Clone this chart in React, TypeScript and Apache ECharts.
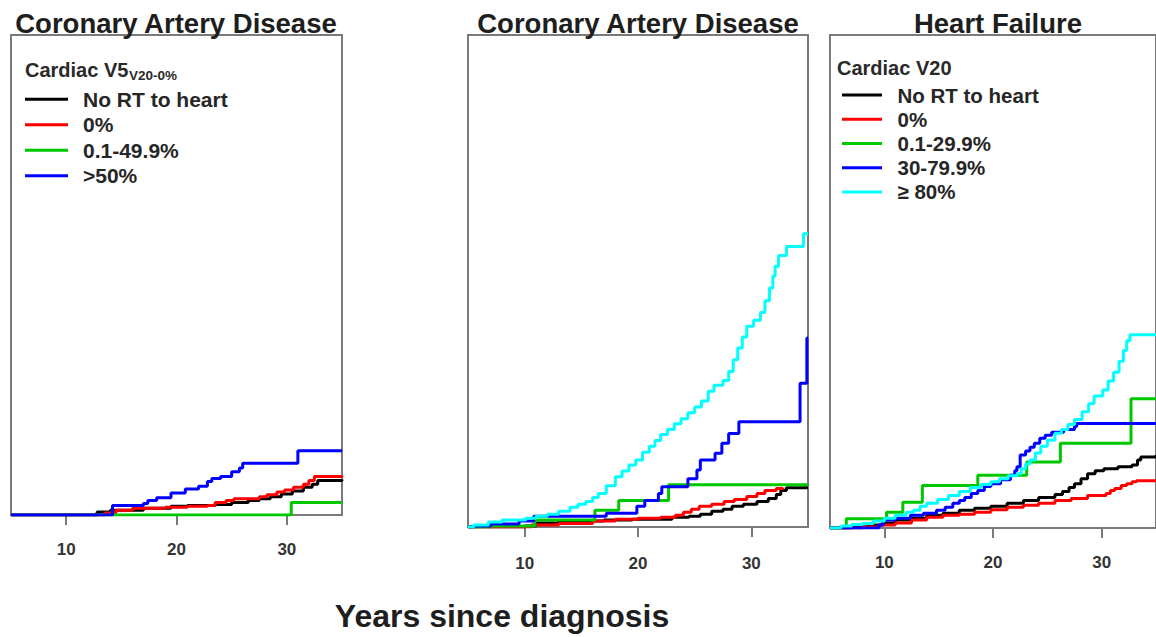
import React, { useEffect, useRef } from "react";
import * as echarts from "echarts";

// ---------- shared ----------
const xTicks = [10, 20, 30];
const xMin = 5;
const xMax = 35;

// ---------- panel 1: Coronary Artery Disease, Cardiac V5 (V20-0%) ----------
const p1Title = "Coronary Artery Disease";
const p1Header = "Cardiac V5";
const p1HeaderSub = "V20-0%";
const p1Names = ["No RT to heart", "0%", "0.1-49.9%", ">50%"];
const p1Black = [[5, 0], [12.8, 0.3], [14, 0.5], [17, 0.7], [19.5, 0.9], [21, 1.0], [23.5, 1.1], [25, 1.3], [26.5, 1.5], [27.5, 1.7], [28.5, 1.9], [29.5, 2.2], [30.5, 2.5], [31.5, 2.9], [32.3, 3.2], [32.8, 3.6], [35, 3.7]];
const p1Red = [[5, 0], [13.5, 0.2], [14.5, 0.5], [16, 0.7], [19, 0.8], [21, 0.9], [22.8, 1.0], [23.5, 1.3], [24.5, 1.5], [25.2, 1.7], [27.5, 1.9], [28.2, 2.1], [29.1, 2.4], [29.8, 2.6], [30.6, 2.9], [31.5, 3.2], [32, 3.6], [32.5, 4.0], [35, 4.1]];
const p1Green = [[5, 0], [30.4, 1.3], [35, 1.3]];
const p1Blue = [[5, 0], [14.2, 1.0], [17.0, 1.2], [17.4, 1.5], [18.2, 1.8], [19.5, 2.3], [20.8, 2.7], [22.0, 3.0], [22.8, 3.5], [23.2, 3.8], [24.0, 4.0], [25.0, 4.5], [25.7, 4.9], [26.0, 5.4], [31.0, 6.7], [35, 6.7]];

// ---------- panel 2: Coronary Artery Disease (V20 groups) ----------
const p2Title = "Coronary Artery Disease";
const p2Black = [[5, 0], [10, 0.1], [11, 0.4], [13, 0.6], [17, 0.7], [19.5, 0.8], [23, 1.0], [24.5, 1.1], [25.5, 1.3], [26.5, 1.6], [27.5, 1.8], [28.3, 2.1], [29.3, 2.3], [30.5, 2.6], [31.5, 2.9], [32.2, 3.3], [32.6, 3.7], [33.1, 4.0], [35, 4.0]];
const p2Red = [[5, 0], [10.6, 0.2], [13, 0.35], [16, 0.6], [18, 0.8], [20, 0.9], [22, 1.0], [23.3, 1.2], [24, 1.5], [24.7, 1.8], [25.4, 2.1], [26.5, 2.3], [27.6, 2.6], [28.5, 2.8], [29.6, 3.1], [30.5, 3.4], [31.2, 3.7], [32.2, 3.9], [32.8, 4.0]];
const p2Green = [[5, 0], [7, 0.1], [10.9, 0.7], [16.2, 1.7], [18.3, 2.7], [22.7, 4.3], [35, 4.3]];
const p2Blue = [[5, 0], [5.5, 0.1], [7, 0.3], [9.5, 0.6], [10.8, 1.1], [17.2, 1.4], [19.9, 2.1], [20.6, 2.7], [21.8, 3.4], [22.1, 4.1], [24.4, 4.9], [25.2, 5.8], [25.5, 6.8], [26.8, 7.5], [27.4, 8.5], [28.0, 9.5], [28.9, 10.7], [34.3, 14.6], [34.9, 19.2], [35, 19.2]];
const p2Cyan = [[5, 0], [5.5, 0.2], [6.8, 0.5], [8, 0.7], [10.1, 0.9], [11, 1.1], [12, 1.3], [13, 1.6], [14, 2.0], [14.7, 2.3], [15.4, 2.6], [16, 3.0], [16.5, 3.4], [17.2, 4.2], [18, 5.1], [18.6, 5.7], [19.2, 6.3], [19.8, 6.8], [20.4, 7.6], [21, 8.2], [21.5, 8.8], [22, 9.4], [22.6, 9.9], [23.2, 10.5], [23.8, 11.0], [24.4, 11.6], [25, 12.2], [25.6, 12.8], [26.2, 13.8], [26.7, 14.4], [27.5, 14.9], [28, 15.8], [28.4, 17.0], [28.8, 18.2], [29.2, 19.3], [29.6, 20.4], [30.2, 21.0], [30.8, 21.8], [31.2, 23.0], [31.6, 24.3], [31.9, 25.5], [32.1, 26.5], [32.4, 27.6], [33.1, 28.5], [34.6, 29.8], [35, 29.8]];

// ---------- panel 3: Heart Failure, Cardiac V20 ----------
const p3Title = "Heart Failure";
const p3Header = "Cardiac V20";
const p3Names = ["No RT to heart", "0%", "0.1-29.9%", "30-79.9%", "\u2265 80%"];
const p3Black = [[5, 0], [7, 0.1], [8.5, 0.3], [9.8, 0.5], [11, 0.8], [12.5, 1.0], [13.9, 1.3], [15.4, 1.5], [16.9, 1.8], [18.3, 2.0], [19.8, 2.2], [21.3, 2.5], [22.8, 2.8], [24.2, 3.1], [25.7, 3.4], [26.4, 3.7], [27, 4.1], [27.5, 4.5], [28.1, 5.0], [28.7, 5.5], [29.4, 5.8], [30.2, 6.0], [31.5, 6.2], [32.8, 6.4], [33.3, 6.9], [33.6, 7.2], [35, 7.4]];
const p3Red = [[5, 0], [8, 0.1], [9.5, 0.3], [11, 0.5], [12.5, 0.8], [13.9, 1.1], [15.4, 1.3], [16.9, 1.4], [18.3, 1.6], [19.8, 1.85], [21.3, 2.1], [22.8, 2.3], [24.2, 2.5], [25.7, 2.8], [27.2, 3.0], [28.7, 3.3], [30.4, 3.5], [30.8, 3.8], [31.2, 4.0], [31.8, 4.3], [32.3, 4.5], [32.8, 4.7], [33.2, 4.8], [35, 4.8]];
const p3Green = [[5, 0], [6.5, 0.95], [10.2, 1.6], [11.7, 2.6], [13.5, 4.3], [18.6, 5.35], [23.1, 6.7], [26.2, 8.6], [32.7, 13.1], [35, 13.1]];
const p3Blue = [[5, 0], [9.5, 0.3], [9.9, 0.8], [11, 1.0], [12.4, 1.3], [13.6, 1.5], [14.8, 1.8], [15.6, 2.1], [16.3, 2.5], [16.9, 2.8], [17.4, 3.1], [18, 3.5], [18.6, 3.8], [19.2, 4.2], [19.8, 4.5], [20.7, 4.9], [21.6, 5.35], [22.0, 5.8], [22.2, 6.2], [22.5, 7.4], [23.0, 7.8], [23.4, 8.2], [23.8, 8.6], [24.3, 9.1], [24.8, 9.4], [25.4, 9.7], [26.5, 10.0], [27.5, 10.3], [27.7, 10.6], [35, 10.6]];
const p3Cyan = [[5, 0], [6, 0.2], [7, 0.35], [8, 0.45], [9, 0.7], [10, 1.0], [11, 1.3], [12, 1.6], [12.7, 1.8], [13.3, 2.2], [13.9, 2.5], [14.9, 2.9], [15.9, 3.3], [16.9, 3.7], [17.9, 4.1], [18.9, 4.4], [19.8, 4.7], [20.6, 5.0], [21.4, 5.3], [22.2, 5.5], [22.6, 6.0], [23.0, 6.5], [23.4, 6.9], [23.9, 7.6], [24.4, 8.3], [25, 8.9], [25.7, 9.6], [26.3, 10.0], [26.9, 10.5], [27.5, 11.0], [28.2, 11.8], [28.8, 12.6], [29.3, 13.4], [30.1, 14.0], [30.6, 14.9], [31.1, 15.8], [31.6, 16.9], [32, 18.0], [32.3, 19.0], [32.6, 19.6], [35, 19.6]];

const xAxisTitle = "Years since diagnosis";

const COLORS = {
  black: "#000000",
  red: "#ff0000",
  green: "#00c800",
  blue: "#0000ff",
  cyan: "#00ffff",
};

const FONT = '"Liberation Sans", Arial, Helvetica, sans-serif';
const FRAME = "#7a7a7a";

function stepSeries(name: string, data: number[][], color: string, idx: number, width = 3) {
  return {
    type: "line",
    name,
    data,
    step: "end",
    xAxisIndex: idx,
    yAxisIndex: idx,
    symbol: "none",
    showSymbol: false,
    color,
    lineStyle: { color, width },
    silent: true,
    animation: false,
  };
}

function text(str: string, x: number, y: number, size: number, align = "center", weight = "bold", color = "#1e1e1e") {
  const font = `${weight} ${size}px ${FONT}`;
  return {
    type: "text",
    x,
    y,
    silent: true,
    style: {
      text: str,
      font,
      fill: color,
      align,
      verticalAlign: "middle",
      textAlign: align,
      textVerticalAlign: "middle",
    },
  };
}

export default function App() {
  const ref = useRef<HTMLDivElement>(null);

  useEffect(() => {
    if (!ref.current) return;
    const chart = echarts.init(ref.current, undefined, { renderer: "svg" });

    const grids = [
      { left: 11, top: 35, width: 331, height: 480, margin: 26 },
      { left: 468, top: 35, width: 340, height: 492, margin: 27.5 },
      { left: 830, top: 35, width: 339, height: 493, margin: 26 },
    ];

    const legendText = (size: number, lh: number, padLeft: number) => ({
      fontFamily: FONT,
      fontWeight: "bold",
      fontSize: size,
      color: "#262626",
      lineHeight: lh,
      padding: [6, 0, 0, padLeft],
    });

    const option: any = {
      animation: false,
      backgroundColor: "#ffffff",
      grid: grids.map((g) => ({
        left: g.left,
        top: g.top,
        width: g.width,
        height: g.height,
        show: true,
        borderColor: FRAME,
        borderWidth: 2,
        backgroundColor: "transparent",
        containLabel: false,
      })),
      xAxis: grids.map((g, i) => ({
        type: "value",
        gridIndex: i,
        min: xMin,
        max: xMax,
        axisLine: { show: false },
        splitLine: { show: false },
        axisTick: {
          show: true,
          length: 10,
          customValues: xTicks,
          lineStyle: { color: FRAME, width: 2 },
        },
        axisLabel: {
          show: true,
          customValues: xTicks,
          margin: g.margin,
          fontFamily: FONT,
          fontWeight: "bold",
          fontSize: 17,
          lineHeight: 17,
          color: "#333333",
        },
      })),
      yAxis: grids.map((_, i) => ({
        type: "value",
        gridIndex: i,
        min: 0,
        max: 50,
        show: false,
        splitLine: { show: false },
      })),
      legend: [
        {
          orient: "vertical",
          left: 25,
          top: 86.5,
          padding: 0,
          data: p1Names,
          icon: "rect",
          itemWidth: 43,
          itemHeight: 3,
          itemGap: 0,
          selectedMode: false,
          textStyle: legendText(21, 19.5, 10),
        },
        {
          orient: "vertical",
          left: 842,
          top: 83,
          padding: 0,
          data: p3Names,
          icon: "rect",
          itemWidth: 40,
          itemHeight: 3,
          itemGap: 0,
          selectedMode: false,
          textStyle: legendText(20.5, 18.2, 10.5),
        },
      ],
      series: [
        stepSeries(p1Names[0], p1Black, COLORS.black, 0),
        stepSeries(p1Names[1], p1Red, COLORS.red, 0),
        stepSeries(p1Names[2], p1Green, COLORS.green, 0),
        stepSeries(p1Names[3], p1Blue, COLORS.blue, 0),

        stepSeries(p3Names[0], p2Black, COLORS.black, 1),
        stepSeries(p3Names[1], p2Red, COLORS.red, 1),
        stepSeries(p3Names[2], p2Green, COLORS.green, 1),
        stepSeries(p3Names[3], p2Blue, COLORS.blue, 1),
        stepSeries(p3Names[4], p2Cyan, COLORS.cyan, 1),

        stepSeries(p3Names[0], p3Black, COLORS.black, 2),
        stepSeries(p3Names[1], p3Red, COLORS.red, 2),
        stepSeries(p3Names[2], p3Green, COLORS.green, 2),
        stepSeries(p3Names[3], p3Blue, COLORS.blue, 2),
        stepSeries(p3Names[4], p3Cyan, COLORS.cyan, 2),
      ],
      graphic: [
        text(p1Title, 176, 23.5, 27.5),
        text(p2Title, 638, 23.5, 27.5),
        text(p3Title, 998, 23.5, 27.5),
        text(p1Header, 25, 69.5, 20, "left", "bold", "#2a2a2a"),
        text(p1HeaderSub, 129, 75.5, 13.5, "left", "bold", "#2a2a2a"),
        text(p3Header, 837, 68, 20, "left", "bold", "#2a2a2a"),
        text(xAxisTitle, 502, 616, 32),
      ],
    };

    chart.setOption(option);
    return () => chart.dispose();
  }, []);

  return (
    <div
      style={{ position: "fixed", left: 0, top: 0, width: 1156, height: 637, overflow: "hidden", background: "#fff" }}
    >
      <div ref={ref} style={{ width: 1156, height: 637 }} />
    </div>
  );
}
